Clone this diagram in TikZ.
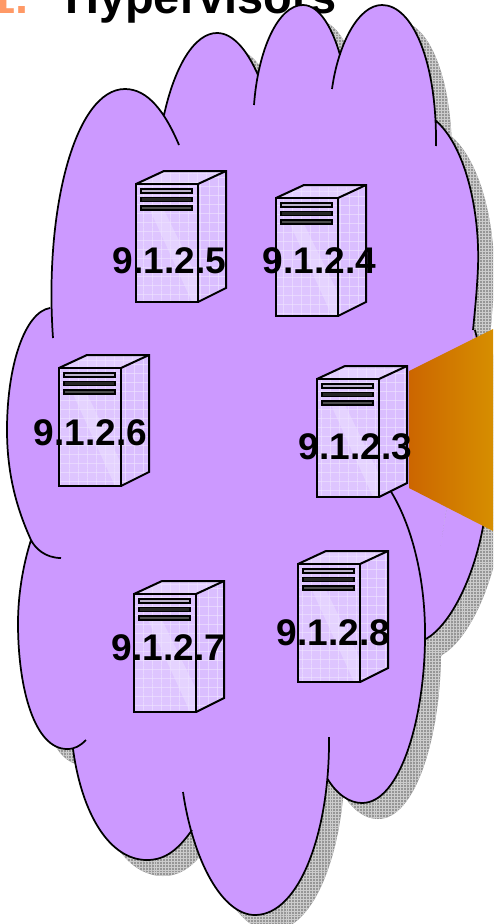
\documentclass[tikz,border=0pt]{standalone}
\usepackage{fontspec}
\setmainfont{Liberation Sans}
\usetikzlibrary{patterns}
\definecolor{cloudfill}{HTML}{CC99FF}
\definecolor{titleorange}{HTML}{FF9966}
\definecolor{funnelL}{HTML}{CC6600}
\definecolor{funnelR}{HTML}{D68E00}
\definecolor{shadowbase}{HTML}{969696}
\definecolor{srvfront}{HTML}{DEC5FF}
\definecolor{srvside}{HTML}{DABEFF}
\definecolor{srvtop}{HTML}{E3CFFF}
\definecolor{srvband}{HTML}{E5D3FF}
\pgfdeclarepatternformonly{shgrid}{\pgfqpoint{-.2pt}{-.2pt}}{\pgfqpoint{2.2pt}{2.2pt}}{\pgfqpoint{2.2pt}{2.2pt}}{%
  \pgfsetlinewidth{.5pt}
  \pgfpathmoveto{\pgfqpoint{0pt}{1pt}}\pgfpathlineto{\pgfqpoint{2.2pt}{1pt}}
  \pgfpathmoveto{\pgfqpoint{1pt}{0pt}}\pgfpathlineto{\pgfqpoint{1pt}{2.2pt}}
  \pgfusepath{stroke}}
\pgfdeclarepatternformonly{srvgrid}{\pgfqpoint{0pt}{0pt}}{\pgfqpoint{7pt}{7pt}}{\pgfqpoint{7pt}{7pt}}{%
  \pgfsetlinewidth{.4pt}
  \pgfpathmoveto{\pgfqpoint{0pt}{3.5pt}}\pgfpathlineto{\pgfqpoint{7pt}{3.5pt}}
  \pgfpathmoveto{\pgfqpoint{3.5pt}{0pt}}\pgfpathlineto{\pgfqpoint{3.5pt}{7pt}}
  \pgfusepath{stroke}}
\tikzset{
  cloudline/.style={draw=black,line width=1.3pt,line cap=butt,line join=round},
  srvline/.style={draw=black,line width=1.5pt,line join=miter},
  srvtex/.style={pattern=srvgrid,pattern color=white!50!srvfront},
  iplabel/.style={anchor=base,inner sep=0pt,font=\fontsize{27.8}{30}\selectfont\bfseries,text=black},
  titletext/.style={anchor=base west,inner sep=0pt,font=\fontsize{35.2}{38}\selectfont\bfseries}
}
% the cloud's lobes, each clockwise, with their inner tails
\newcommand\lobes{
  (53,338) .. controls (44,210) and (75,89) .. (125,89) .. controls (148,89) and (165,112) .. (179,145)
  (164,115) .. controls (175,65) and (195,33) .. (217,33) .. controls (233,33) and (247,50) .. (258,75)
  (254,105) .. controls (258,50) and (278,5) .. (303,5) .. controls (320,5) and (333,30) .. (340,55)
  (332,89) .. controls (338,45) and (358,5) .. (382,5) .. controls (412,5) and (437,60) .. (436,146)
  (435,120) .. controls (465,145) and (480,210) .. (478,267) .. controls (477,290) and (475,310) .. (473,330)
  (475,330) .. controls (490,390) and (495,470) .. (483,527) .. controls (473,580) and (450,625) .. (426,639)
  (390,490) .. controls (412,525) and (426,580) .. (425,640) .. controls (424,720) and (400,803) .. (362,803) .. controls (350,803) and (337,795) .. (327,778)
  (329,737) .. controls (330,830) and (300,915) .. (255,915) .. controls (222,915) and (193,860) .. (183,792)
  (192,830) .. controls (178,850) and (165,860) .. (147,860) .. controls (110,860) and (82,815) .. (73,749)
  (86,740) .. controls (80,746) and (75,749) .. (67,749) .. controls (35,749) and (18,690) .. (18,623) .. controls (18,595) and (23,565) .. (31,540)
  (61,558) .. controls (45,558) and (35,548) .. (31,540) .. controls (15,505) and (7,470) .. (7,430) .. controls (7,365) and (25,312) .. (50,308)
}
\newcommand\cloudcore{
  (50,308) -- (164,115) -- (258,75) -- (340,55) -- (435,120) -- (474,330) -- (426,639) -- (327,778) -- (192,830) -- (72,749) -- (31,540) -- cycle
}
% server tower: #1 x, #2 y of the front face's top-left corner
\newcommand\serverbox[2]{%
  \begin{scope}[shift={(#1,#2)}]
    \path[fill=srvfront] (0,0) rectangle (62,118);
    \path[fill=srvband] (14,26) -- (28,26) -- (62,95) -- (62,118) -- (56,118) -- cycle;
    \path[srvtex] (0,0) rectangle (62,118);
    \path[fill=srvside] (62,0) -- (90,-13) -- (90,104) -- (62,118) -- cycle;
    \path[srvtex] (62,0) -- (90,-13) -- (90,104) -- (62,118) -- cycle;
    \path[fill=srvtop] (0,0) -- (28,-13) -- (90,-13) -- (62,0) -- cycle;
    \path[srvtex] (0,0) -- (28,-13) -- (90,-13) -- (62,0) -- cycle;
    \draw[srvline] (0,0) rectangle (62,118);
    \draw[srvline] (0,0) -- (28,-13) -- (90,-13) -- (90,104) -- (62,118);
    \draw[srvline] (62,0) -- (90,-13);
    \draw[draw=black,line width=1pt,fill=srvband!60!gray] (5,5) rectangle (56,9);
    \draw[draw=black,line width=1pt,fill=black!85] (5,13.5) rectangle (56,17.5);
    \draw[draw=black,line width=1pt,fill=black!70] (5,22) rectangle (56,26);
  \end{scope}}
\begin{document}
\begin{tikzpicture}[x=0.75pt,y=-0.75pt]
  \useasboundingbox (0,0) rectangle (493,924);
  \clip (0,0) rectangle (493,924);
  % title, cut by the top of the picture
  \node[titletext,text=titleorange] (num) at (-11,14) {1.};
  \node[titletext,text=black] (title) at (65,14) {Hypervisors};
  % shadow
  \begin{scope}[shift={(16,16)}]
    \fill[shadowbase] \lobes \cloudcore;
    \path[pattern=shgrid,pattern color=gray!40!white] \lobes \cloudcore;
  \end{scope}
  % cloud
  \fill[cloudfill] \lobes \cloudcore;
  \draw[cloudline] \lobes;
  % funnel
  \shade[left color=funnelL,right color=funnelR] (409,371) -- (493,329) -- (493,531) -- (409,488) -- cycle;
  % servers
  \serverbox{136}{184}
  \serverbox{276}{198}
  \serverbox{59}{368}
  \serverbox{317}{379}
  \serverbox{134}{594}
  \serverbox{298}{564}
  % labels
  \node[iplabel] (ip5) at (169.5,273.5) {9.1.2.5};
  \node[iplabel] (ip4) at (319.5,273.5) {9.1.2.4};
  \node[iplabel] (ip6) at (90.5,445.5) {9.1.2.6};
  \node[iplabel] (ip3) at (355.5,459) {9.1.2.3};
  \node[iplabel] (ip7) at (168.5,660.5) {9.1.2.7};
  \node[iplabel] (ip8) at (333.5,645.5) {9.1.2.8};
\end{tikzpicture}
\end{document}
